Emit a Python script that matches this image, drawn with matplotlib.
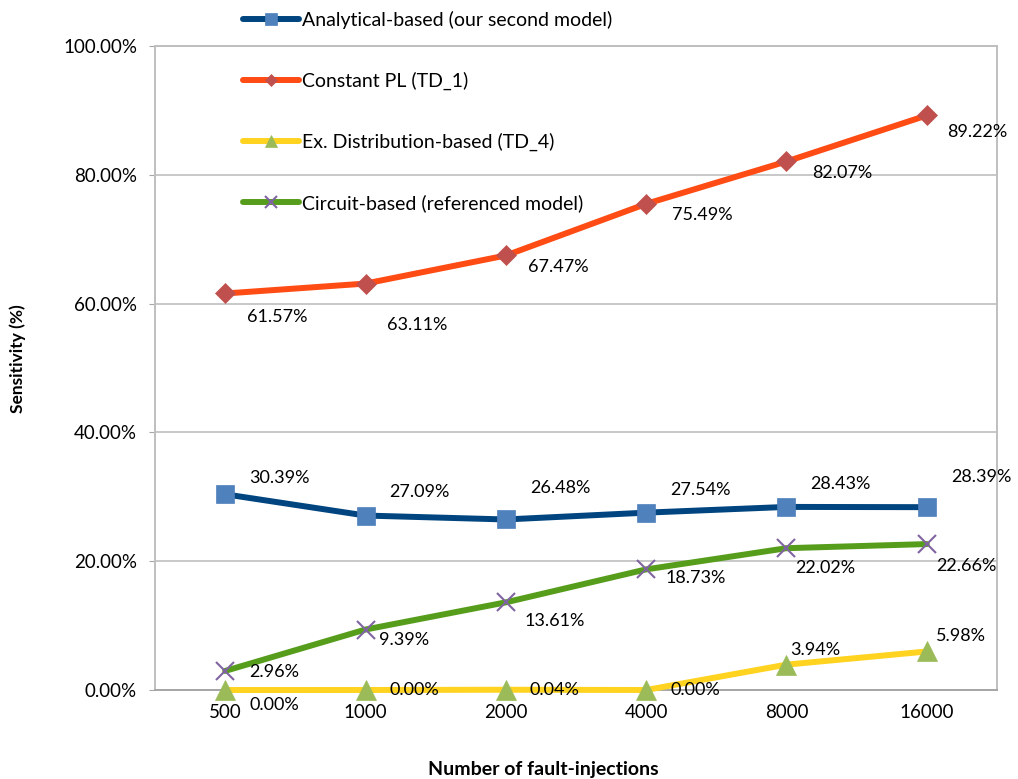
import matplotlib
matplotlib.use("Agg")
import matplotlib.pyplot as plt
from matplotlib.lines import Line2D
from matplotlib.ticker import FuncFormatter

plt.rcParams['font.family'] = ['Lato', 'DejaVu Sans']

categories = ["500", "1000", "2000", "4000", "8000", "16000"]
analytical = [30.39, 27.09, 26.48, 27.54, 28.43, 28.39]
constant_pl = [61.57, 63.11, 67.47, 75.49, 82.07, 89.22]
ex_dist = [0.00, 0.00, 0.04, 0.00, 3.94, 5.98]
circuit = [2.96, 9.39, 13.61, 18.73, 22.02, 22.66]
y_ticks = [0, 20, 40, 60, 80, 100]

series = [
    # label, values, line colour, marker, marker colour, marker size, label offsets (px)
    ("Analytical-based (our second model)", analytical, "#00457F", "s", "#4F81BD", 13,
     [(24, 16), (24, 24), (24, 31), (24, 23), (24, 23), (24, 30)]),
    ("Constant PL (TD_1)", constant_pl, "#FF4B14", "D", "#C0504D", 10,
     [(22, -24), (22, -41), (22, -12), (26, -11), (26, -12), (20, -17)]),
    ("Ex. Distribution-based (TD_4)", ex_dist, "#FFD320", "^", "#9BBB59", 14,
     [(24, -15), (24, 0), (24, 0), (24, 0), (4, 15), (9, 15)]),
    ("Circuit-based (referenced model)", circuit, "#579D1C", "x", "#8064A2", 13,
     [(24, -1), (14, -10), (19, -19), (19, -9), (9, -20), (9, -22)]),
]

fig = plt.figure(figsize=(10.18, 7.79), dpi=100)
ax = fig.add_axes([155 / 1018, 1 - 690 / 779, (997 - 155) / 1018, (690 - 46) / 779])

x = list(range(len(categories)))
legend_handles = []
for label, vals, lc, mk, mc, ms, offs in series:
    mew = 1.5 if mk == "x" else 0.5
    ax.plot(x, vals, color=lc, linewidth=4.3, marker=mk, markersize=ms,
            markerfacecolor=mc, markeredgecolor=mc, markeredgewidth=mew,
            zorder=3, solid_capstyle="round", clip_on=False)
    legend_handles.append(Line2D([], [], color=lc, linewidth=4.3, marker=mk,
                                 markersize=ms * 0.65, markerfacecolor=mc,
                                 markeredgecolor=mc, markeredgewidth=mew,
                                 solid_capstyle="round", label=label))
    for xi, v, (dx, dy) in zip(x, vals, offs):
        ax.annotate(f"{v:.2f}%", (xi, v), xytext=(dx * 0.72, dy * 0.72),
                    textcoords="offset points", ha="left", va="center",
                    fontsize=13, color="black", zorder=4)

ax.set_xlim(-0.5, len(categories) - 0.5)
ax.set_ylim(0, 100)
ax.set_xticks(x)
ax.set_xticklabels(categories, fontsize=13.5)
ax.set_yticks(y_ticks)
ax.yaxis.set_major_formatter(FuncFormatter(lambda v, p: f"{v:.2f}%"))
ax.tick_params(axis="y", labelsize=13.5, length=4, color="#A6A6A6", pad=9)
ax.tick_params(axis="x", length=0, pad=10)
ax.grid(axis="y", color="#BFBFBF", linewidth=1.2)
ax.set_axisbelow(True)
for side in ["left", "right", "top", "bottom"]:
    ax.spines[side].set_color("#BFBFBF")
    ax.spines[side].set_linewidth(1.4)
ax.spines["bottom"].set_color("#A6A6A6")

ax.set_ylabel("Sensitivity (%)", fontsize=12.5, fontweight="bold", va="center")
ax.yaxis.set_label_coords((18 - 155) / 842, (690 - 359) / 644)
ax.set_xlabel("Number of fault-injections", fontsize=14, fontweight="bold", va="center")
ax.xaxis.set_label_coords((543 - 155) / 842, (690 - 770) / 644)

fig.legend(handles=legend_handles, loc="upper left",
           bbox_to_anchor=(243 / 1018, 1 - 11 / 779), frameon=False,
           fontsize=14, labelspacing=2.2, handlelength=2.9, handletextpad=0.15,
           borderpad=0, borderaxespad=0)

fig.savefig("out.png", dpi=100, facecolor="white")
